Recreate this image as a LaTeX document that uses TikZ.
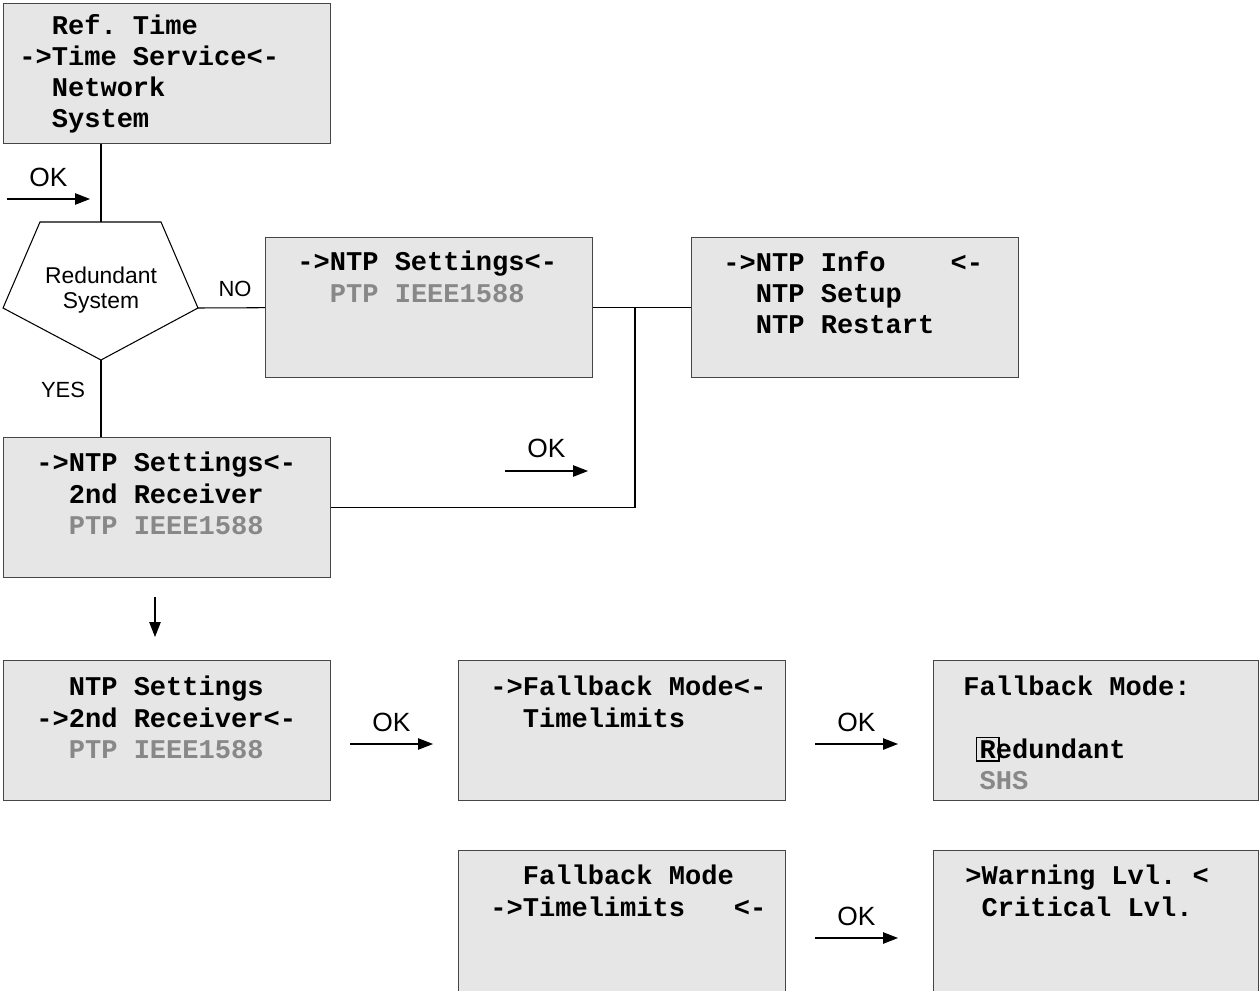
\documentclass[tikz,border=0pt]{standalone}
\usepackage{fontspec}
\setmainfont{Liberation Sans}
\newfontfamily\lcdfont{Liberation Mono}
\usepackage{tikz}
\usetikzlibrary{calc, arrows.meta}
\usepackage{xcolor}

\definecolor{lcdfill}{RGB}{230,230,230}
\definecolor{lcdframe}{RGB}{70,70,70}
\definecolor{lcdgray}{RGB}{136,136,136}

\newcommand{\pad}[1]{\hspace*{#1\fontcharwd\font`x}}
\newcommand{\greyed}[1]{\textcolor{lcdgray}{#1}}
\newcommand{\cursor}[1]{{\setlength{\fboxsep}{1.2pt}\setlength{\fboxrule}{0.9pt}\kern-2.1pt\fbox{#1}\kern-2.1pt}}

\begin{document}
\begin{tikzpicture}[x = 0.02cm, y = -0.02cm,
        lcd/.style = {draw = lcdframe, fill = lcdfill, line width = 0.8pt, anchor = north west,
                      minimum width = 6.54cm, minimum height = 2.8cm, inner sep = 0pt},
        lcdtxt/.style = {anchor = north west, inner sep = 0pt, align = left,
                         font = \lcdfont\bfseries\fontsize{15.4pt}{17.7pt}\selectfont\frenchspacing,
                         execute at begin node = \strut},
        tag/.style = {inner sep = 0pt, font = \fontsize{12.5pt}{14pt}\selectfont},
        oktag/.style = {tag, midway, font = \fontsize{15pt}{17pt}\selectfont},
        wire/.style = {line width = 0.6pt},
        okarrow/.style = {line width = 0.6pt, -{Triangle[length = 8.5pt, width = 6.5pt]}}]
    \clip (0,0) rectangle (1260,990);

    % menu screens
    \node[lcd] (refmenu) at (3,3) {};
    \node[lcdtxt] (refmenutxt) at ($(refmenu.north west)+(16,11)$)
        {\pad{2}Ref. Time\\->Time Service<-\\\pad{2}Network\\\pad{2}System};
    \node[lcd] (ntpset) at (265,237) {};
    \node[lcdtxt] (ntpsettxt) at ($(ntpset.north west)+(32,14)$)
        {->NTP Settings<-\\\pad{2}\greyed{PTP IEEE1588}};
    \node[lcd] (ntpinfo) at (691,237) {};
    \node[lcdtxt] (ntpinfotxt) at ($(ntpinfo.north west)+(32,14)$)
        {->NTP Info~~~~<-\\\pad{2}NTP Setup\\\pad{2}NTP Restart};
    \node[lcd] (ntpred) at (3,437) {};
    \node[lcdtxt] (ntpredtxt) at ($(ntpred.north west)+(33,15)$)
        {->NTP Settings<-\\\pad{2}2nd Receiver\\\pad{2}\greyed{PTP IEEE1588}};
    \node[lcd] (recv) at (3,660) {};
    \node[lcdtxt] (recvtxt) at ($(recv.north west)+(33,16)$)
        {\pad{2}NTP Settings\\->2nd Receiver<-\\\pad{2}\greyed{PTP IEEE1588}};
    \node[lcd] (fbmenu) at (458,660) {};
    \node[lcdtxt] (fbmenutxt) at ($(fbmenu.north west)+(32,16)$)
        {->Fallback Mode<-\\\pad{2}Timelimits};
    \node[lcd, minimum width = 6.5cm] (fbmode) at (933,660) {};
    \node[lcdtxt] (fbmodetxt) at ($(fbmode.north west)+(30,16)$)
        {Fallback Mode:\\[17.7pt]\pad{1}\cursor{R}edundant\\\pad{1}\greyed{SHS}};
    \node[lcd, minimum height = 3.2cm] (tlmenu) at (458,850) {};
    \node[lcdtxt] (tlmenutxt) at ($(tlmenu.north west)+(32,15)$)
        {\pad{2}Fallback Mode\\->Timelimits~~~<-};
    \node[lcd, minimum width = 6.5cm, minimum height = 3.2cm] (tllevel) at (933,850) {};
    \node[lcdtxt] (tlleveltxt) at ($(tllevel.north west)+(32,15)$)
        {>Warning Lvl.~<\\\pad{1}Critical Lvl.};

    % decision
    \coordinate (dtop) at (101,222);
    \coordinate (dtl) at (40,222);
    \coordinate (dtr) at (161,222);
    \coordinate (dr) at (198,308);
    \coordinate (db) at (101,360);
    \coordinate (dl) at (3,308);
    \draw[wire] (dtl) -- (dtr) -- (dr) -- (db) -- (dl) -- cycle;
    \node[tag, align = center, font = \fontsize{13pt}{14.5pt}\selectfont] (redsys) at (101,290) {Redundant\\System};

    % connectors
    \coordinate (jn) at (635,307.5);
    \draw[wire] (refmenu.south -| dtop) -- (dtop);
    \draw[wire] (dr) -- (ntpset.west);
    \draw[wire] (db) -- (ntpred.north -| db);
    \draw[wire] (ntpset.east) -- (ntpinfo.west);
    \draw[wire] (jn) -- (jn |- ntpred.east) -- (ntpred.east);
    \node[tag] (no) at (235,289) {NO};
    \node[tag] (yes) at (63,390) {YES};

    % key presses
    \coordinate (oka) at (7,199);       \coordinate (okb) at (90,199);
    \coordinate (okc) at (505,471);     \coordinate (okd) at (588,471);
    \coordinate (oke) at (350,744);     \coordinate (okf) at (433,744);
    \coordinate (okg) at (815,744);     \coordinate (okh) at (898,744);
    \coordinate (oki) at (815,938);     \coordinate (okj) at (898,938);
    \coordinate (dna) at (155,597);     \coordinate (dnb) at (155,637);
    \draw[okarrow] (oka) -- (okb) node[oktag, above = 6.8pt] (ok1) {OK};
    \draw[okarrow] (okc) -- (okd) node[oktag, above = 7.4pt] (ok2) {OK};
    \draw[okarrow] (oke) -- (okf) node[oktag, above = 6.5pt] (ok3) {OK};
    \draw[okarrow] (okg) -- (okh) node[oktag, above = 6.5pt] (ok4) {OK};
    \draw[okarrow] (oki) -- (okj) node[oktag, above = 6.5pt] (ok5) {OK};
    \draw[okarrow] (dna) -- (dnb);
\end{tikzpicture}
\end{document}
